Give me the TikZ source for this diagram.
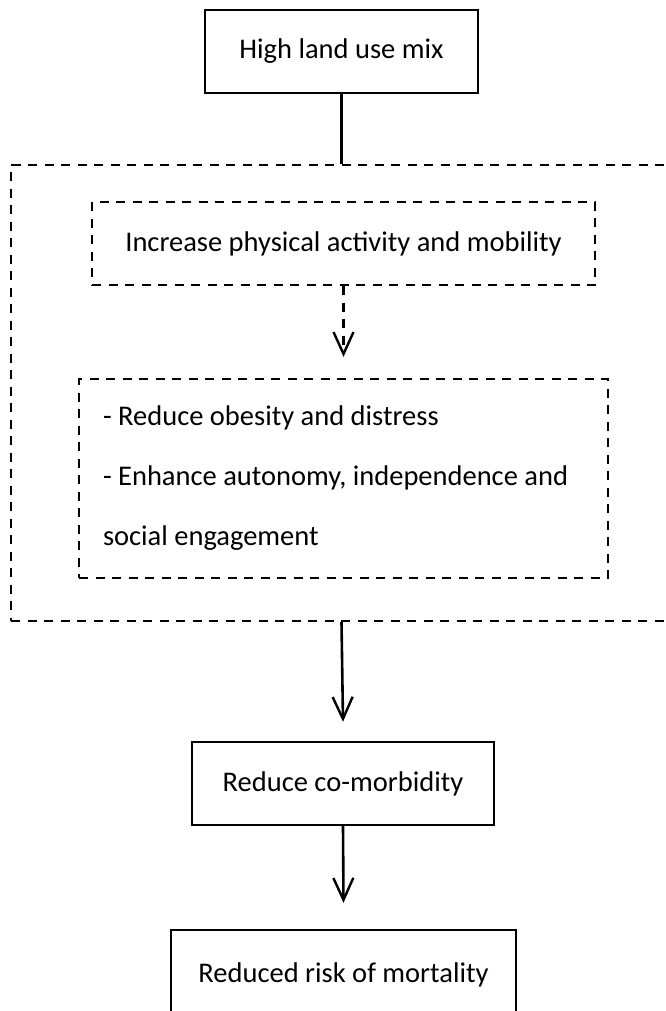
\documentclass[tikz,border=0pt]{standalone}
\usepackage{fontspec}
\setmainfont{Carlito}
\usetikzlibrary{arrows.meta}
\begin{document}
\begin{tikzpicture}[x=1pt,y=-1pt,
  solidbox/.style={draw, line width=2.4pt, inner sep=0pt, font=\fontsize{28.5}{34}\selectfont},
  dashbox/.style={draw, line width=2.2pt, dash pattern=on 9pt off 7.5pt, inner sep=0pt, font=\fontsize{28.5}{34}\selectfont},
  conn/.style={line width=2.6pt},
  arr/.style={conn, -{Straight Barb[length=22pt,width=20pt,line width=2.4pt]}},
]
\useasboundingbox (0,0) rectangle (665,1011);
\clip (0,0) rectangle (665,1011);

\node[solidbox, minimum width=273pt, minimum height=83pt] (top) at (341.5,51.5) {High land use mix};
\node[dashbox, minimum width=709pt, minimum height=456pt] (outer) at (365.5,393) {};
\node[dashbox, minimum width=503pt, minimum height=83pt] (act) at (343.5,243.5) {Increase physical activity and mobility};
\node[dashbox, minimum height=199pt, text width=481pt, inner xsep=24pt, align=flush left, font=\fontsize{28.5}{60}\selectfont] (eff) at (343.5,478.5) {- Reduce obesity and distress\\- Enhance autonomy, independence and\\social engagement};
\node[solidbox, minimum width=302pt, minimum height=83pt] (comorb) at (343,783.5) {Reduce co-morbidity};
\node[solidbox, minimum width=345pt, minimum height=90pt] (mort) at (343.5,975) {Reduced risk of mortality};

\draw[conn] (top.south) -- (top.south |- outer.north);
\draw[arr, line width=2.2pt, dash pattern=on 9pt off 7.5pt] (act.south) -- ([yshift=21pt]eff.north);
\draw[arr] (top.south |- outer.south) -- ([yshift=19pt]comorb.north);
\draw[arr] (comorb.south) -- ([yshift=26pt]mort.north);
\end{tikzpicture}
\end{document}
